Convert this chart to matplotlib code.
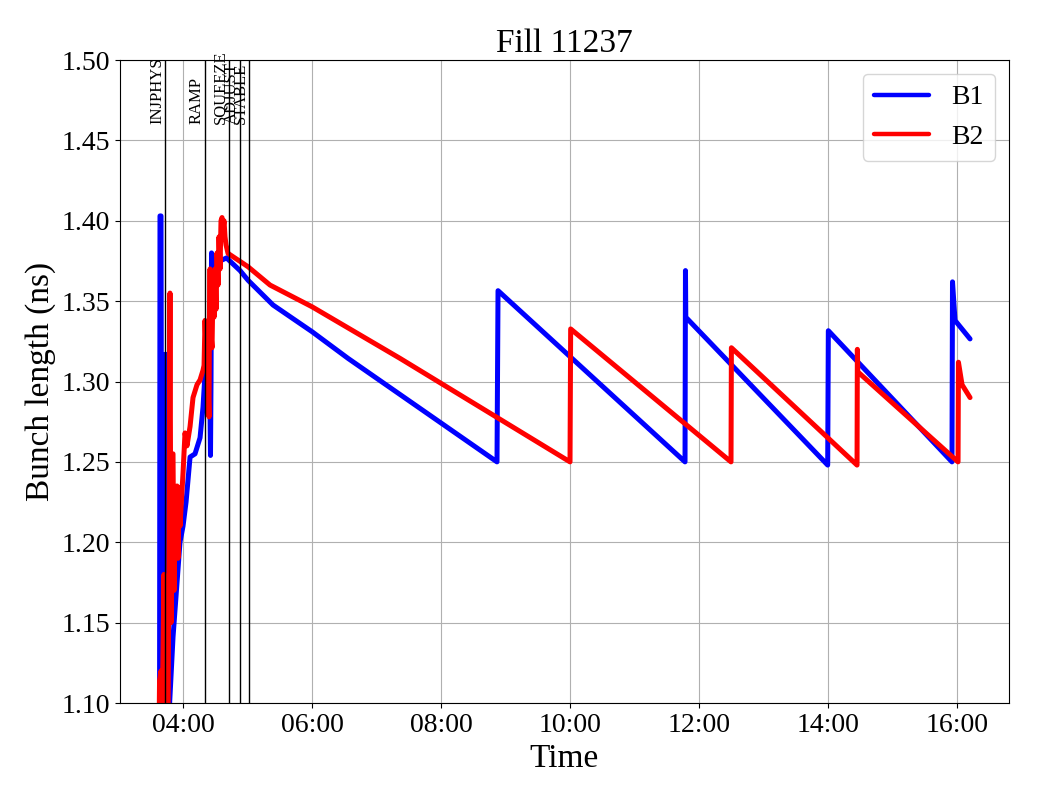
import matplotlib
matplotlib.use("Agg")
import matplotlib.pyplot as plt
import matplotlib.dates as mdates
import matplotlib.transforms as mtransforms
import pandas as pd

# ---- data (hours since midnight, bunch length in ns) ----
b1_hours = [3.636, 3.643, 3.659, 3.674, 3.721, 3.729, 3.736, 3.767, 3.845, 3.953,
            4.000, 4.047, 4.109, 4.186, 4.264, 4.310, 4.341, 4.372, 4.411, 4.426,
            4.434, 4.442, 4.465, 4.481, 4.512, 4.574, 4.682, 4.698, 4.884, 5.008,
            5.395, 6.000, 6.558, 8.868, 8.884, 11.783, 11.790, 11.795, 13.995, 14.005,
            15.922, 15.930, 15.969, 16.202]
b1_vals = [1.08, 1.403, 1.403, 1.08, 1.08, 1.317, 1.12, 1.08, 1.141, 1.20,
           1.21, 1.225, 1.253, 1.255, 1.265, 1.284, 1.305, 1.33, 1.31, 1.254,
           1.30, 1.38, 1.375, 1.36, 1.37, 1.375, 1.377, 1.376, 1.369, 1.363,
           1.3476, 1.331, 1.3144, 1.25, 1.3565, 1.25, 1.369, 1.340, 1.248, 1.3316,
           1.25, 1.362, 1.338, 1.3265]

b2_hours = [3.628, 3.636, 3.659, 3.674, 3.705, 3.721, 3.736, 3.767, 3.783, 3.798,
            3.814, 3.829, 3.845, 3.860, 3.876, 3.891, 3.907, 3.922, 3.938, 3.953,
            4.000, 4.031, 4.062, 4.109, 4.155, 4.217, 4.264, 4.310, 4.326, 4.341,
            4.357, 4.372, 4.388, 4.403, 4.411, 4.419, 4.434, 4.450, 4.465, 4.481,
            4.496, 4.512, 4.527, 4.543, 4.558, 4.574, 4.589, 4.605, 4.620, 4.636,
            4.651, 4.667, 4.698, 5.008, 5.349, 6.000, 7.364, 10.000, 10.010, 12.496,
            12.502, 14.450, 14.455, 14.462, 16.016, 16.022, 16.078, 16.202]
b2_vals = [1.08, 1.114, 1.12, 1.08, 1.18, 1.08, 1.13, 1.08, 1.20, 1.355,
           1.15, 1.255, 1.255, 1.17, 1.23, 1.20, 1.235, 1.19, 1.234, 1.21,
           1.243, 1.268, 1.26, 1.272, 1.29, 1.298, 1.301, 1.307, 1.31, 1.338,
           1.32, 1.33, 1.30, 1.278, 1.35, 1.37, 1.33, 1.321, 1.36, 1.34,
           1.37, 1.345, 1.38, 1.36, 1.39, 1.37, 1.40, 1.402, 1.395, 1.40,
           1.39, 1.385, 1.3797, 1.3714, 1.36, 1.3465, 1.3144, 1.25, 1.3327, 1.25,
           1.321, 1.248, 1.320, 1.306, 1.25, 1.312, 1.298, 1.290]

phase_names = ["INJPHYS", "RAMP", "SQUEEZE", "ADJUST", "STABLE"]
phase_hours = [3.721, 4.336, 4.709, 4.879, 5.019]

title = "Fill 11237"
x_limits_h = [3.023, 16.806]
y_limits = [1.10, 1.50]

base = pd.Timestamp("2025-09-29")
def to_time(h):
    return base + pd.to_timedelta(pd.Series(h), unit="h")

plt.rcParams["font.family"] = ["Liberation Serif", "DejaVu Serif"]
plt.rcParams["mathtext.fontset"] = "stix"

fig = plt.figure(figsize=(10.4, 8), dpi=100)
ax = fig.add_axes([120/1040, 97/800, 889/1040, 643/800])

ax.plot(to_time(b1_hours), b1_vals, color="#0000ff", lw=3.6, label="B1",
        solid_capstyle="round", solid_joinstyle="round")
ax.plot(to_time(b2_hours), b2_vals, color="#ff0000", lw=3.6, label="B2",
        solid_capstyle="round", solid_joinstyle="round")

trans = mtransforms.blended_transform_factory(ax.transData, ax.transAxes)
for name, t in zip(phase_names, to_time(phase_hours)):
    ax.axvline(t, color="black", lw=1)
    ax.text(t, 0.9, name, rotation=90, ha="right", va="bottom",
            fontsize=12, transform=trans)

ax.set_xlim(to_time(x_limits_h).iloc[0], to_time(x_limits_h).iloc[1])
ax.set_ylim(*y_limits)
ax.xaxis.set_major_locator(mdates.HourLocator(byhour=range(0, 24, 2)))
ax.xaxis.set_major_formatter(mdates.DateFormatter("%H:%M"))
ax.set_yticks([1.10, 1.15, 1.20, 1.25, 1.30, 1.35, 1.40, 1.45, 1.50])
ax.yaxis.set_major_formatter(matplotlib.ticker.FormatStrFormatter("%.2f"))
ax.tick_params(labelsize=20)
ax.grid(True, color="#b0b0b0", lw=0.8)

ax.set_xlabel("Time", fontsize=24)
ax.set_ylabel("Bunch length (ns)", fontsize=24)
ax.set_title(title, fontsize=24)
leg = ax.legend(loc="upper right", fontsize=20)
for line in leg.get_lines():
    line.set_linewidth(3.2)

fig.savefig("out.png", dpi=100)
